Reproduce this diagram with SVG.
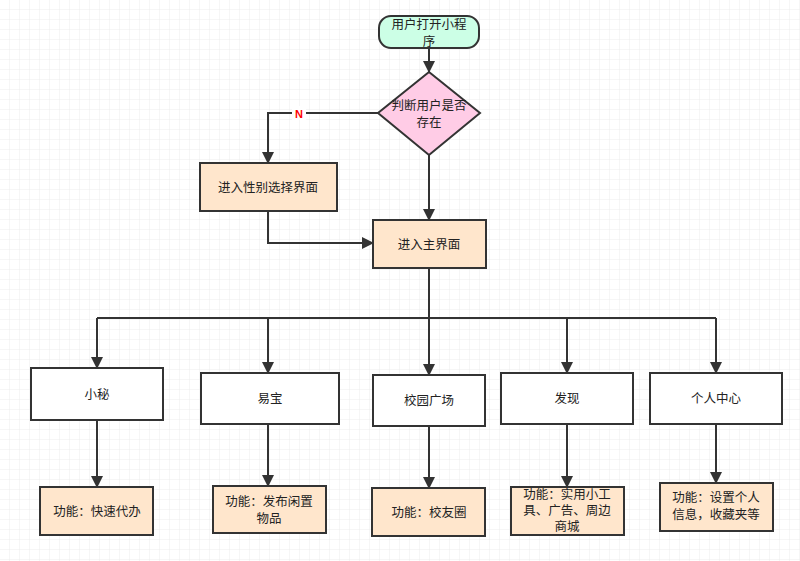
<svg xmlns="http://www.w3.org/2000/svg" width="800" height="561" viewBox="0 0 800 561">
<defs>
<pattern id="g" width="10" height="10" patternUnits="userSpaceOnUse"><path d="M10 0V10H0" fill="none" stroke="#ececec" stroke-width="1"/></pattern>
<marker id="a" markerWidth="12" markerHeight="16" refX="11" refY="6" orient="auto" markerUnits="userSpaceOnUse"><path d="M0 0L12 6L0 12z" fill="#333"/></marker>
<style>
.n{stroke:#333;stroke-width:2}
.o{fill:#ffe6cc}
.w{fill:#fff}
text{font-family:"Noto Sans CJK SC","Liberation Sans",sans-serif;font-size:12.5px;fill:#222;text-anchor:middle}
.c{fill:none;stroke:#333;stroke-width:2;marker-end:url(#a)}
</style>
</defs>
<rect width="800" height="561" fill="#fff"/>
<rect width="800" height="561" fill="url(#g)"/>
<g id="connectors">
<path class="c" d="M429 48V72"/>
<path class="c" d="M378 113H268V163"/>
<path class="c" d="M429 155V220"/>
<path class="c" d="M268 211V243H373"/>
<path fill="none" stroke="#333" stroke-width="2" d="M429 268V318M97 318H716"/>
<path class="c" d="M97 318V368"/>
<path class="c" d="M268 318V373"/>
<path class="c" d="M429 318V375"/>
<path class="c" d="M567 318V373"/>
<path class="c" d="M716 318V373"/>
<path class="c" d="M97 420V487"/>
<path class="c" d="M268 424V486"/>
<path class="c" d="M429 426V488"/>
<path class="c" d="M567 424V487"/>
<path class="c" d="M716 424V483"/>
<rect x="292" y="106" width="14" height="14" fill="#fff"/>
<text x="299" y="118" style="fill:#f00;font-weight:bold;font-size:11px;font-family:'Liberation Sans',sans-serif">N</text>
</g>
<g id="start"><rect class="n" x="379" y="16" width="100" height="32" rx="12" fill="#ccffe6"/><text x="429" y="29">用户打开小程</text><text x="429" y="46">序</text></g>
<g id="decision"><path class="n" d="M429 72L480 113L429 155L378 113z" fill="#ffcce6"/><text x="429" y="110">判断用户是否</text><text x="429" y="127">存在</text></g>
<g id="gender"><rect class="n o" x="200" y="163" width="137" height="48"/><text x="268" y="192">进入性别选择界面</text></g>
<g id="main"><rect class="n o" x="373" y="220" width="113" height="48"/><text x="429" y="249">进入主界面</text></g>
<g id="xiaomi"><rect class="n w" x="31" y="368" width="132" height="52"/><text x="97" y="399">小秘</text></g>
<g id="yibao"><rect class="n w" x="201" y="373" width="138" height="51"/><text x="270" y="403">易宝</text></g>
<g id="square"><rect class="n w" x="373" y="375" width="112" height="51"/><text x="429" y="405">校园广场</text></g>
<g id="discover"><rect class="n w" x="501" y="373" width="132" height="51"/><text x="567" y="403">发现</text></g>
<g id="personal"><rect class="n w" x="650" y="373" width="132" height="51"/><text x="716" y="403">个人中心</text></g>
<g id="f1"><rect class="n o" x="40" y="487" width="113" height="48"/><text x="97" y="516">功能：快速代办</text></g>
<g id="f2"><rect class="n o" x="213" y="486" width="113" height="47"/><text x="269" y="506">功能：发布闲置</text><text x="269" y="523">物品</text></g>
<g id="f3"><rect class="n o" x="372" y="488" width="113" height="48"/><text x="429" y="517">功能：校友圈</text></g>
<g id="f4"><rect class="n o" x="511" y="487" width="113" height="48"/><text x="567" y="499">功能：实用小工</text><text x="567" y="515">具、广告、周边</text><text x="567" y="531">商城</text></g>
<g id="f5"><rect class="n o" x="660" y="483" width="113" height="48"/><text x="716" y="502">功能：设置个人</text><text x="716" y="519">信息，收藏夹等</text></g>
</svg>
